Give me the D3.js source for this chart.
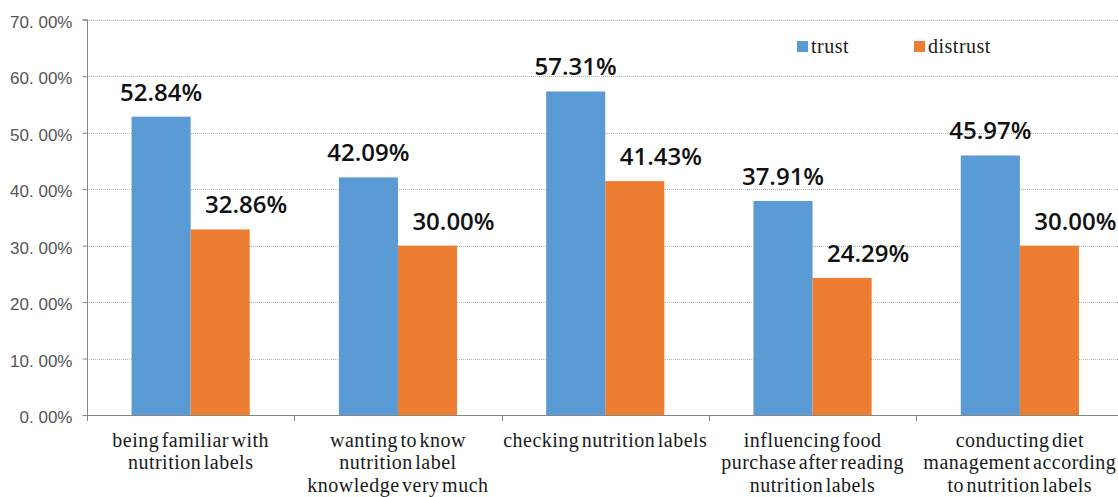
<!DOCTYPE html>
<html>
<head>
<meta charset="utf-8">
<script src="https://cdn.jsdelivr.net/npm/d3@7"></script>
<style>
  html, body { margin: 0; padding: 0; background: #fff; }
  svg { display: block; }
</style>
</head>
<body>
<svg id="chart" width="1118" height="497"></svg>
<script>
const categories = [
  ["being familiar with", "nutrition labels"],
  ["wanting to know", "nutrition label", "knowledge very much"],
  ["checking nutrition labels"],
  ["influencing food", "purchase after reading", "nutrition labels"],
  ["conducting diet", "management according", "to nutrition labels"]
];
const seriesNames = ["trust", "distrust"];
const trust = [52.84, 42.09, 57.31, 37.91, 45.97];
const distrust = [32.86, 30.00, 41.43, 24.29, 30.00];
const yTicks = [0, 10, 20, 30, 40, 50, 60, 70];
const yTickLabels = ["0. 00%", "10. 00%", "20. 00%", "30. 00%", "40. 00%", "50. 00%", "60. 00%", "70. 00%"];
const colors = ["#5B9BD5", "#ED7D31"];

const svg = d3.select("#chart");
const plotLeft = 87, plotRight = 1123.5, plotTop = 19.8, plotBottom = 415;
const keys = d3.range(categories.length);

const x = d3.scaleBand().domain(keys).range([plotLeft, plotRight]).padding(0);
const y = d3.scaleLinear().domain([0, 70]).range([plotBottom, plotTop]);
const barW = x.bandwidth() * 0.285;

// gridlines
svg.append("g")
  .selectAll("line")
  .data(yTicks.filter(d => d > 0))
  .join("line")
  .attr("x1", plotLeft).attr("x2", 1118)
  .attr("y1", d => Math.round(y(d)) + 0.5).attr("y2", d => Math.round(y(d)) + 0.5)
  .attr("stroke", "#b4b4b4").attr("stroke-width", 1).attr("stroke-dasharray", "1,1");

// bars
const series = [trust, distrust];
series.forEach((vals, si) => {
  svg.append("g")
    .selectAll("rect")
    .data(vals)
    .join("rect")
    .attr("x", (d, i) => x(i) + x.bandwidth() / 2 - barW + si * barW)
    .attr("y", d => y(d))
    .attr("width", barW)
    .attr("height", d => y(0) - y(d))
    .attr("fill", colors[si]);
});

// data labels
const labelFmt = d => d.toFixed(2) + "%";
const labelOffset = [0, 26];
series.forEach((vals, si) => {
  svg.append("g")
    .selectAll("text")
    .data(vals)
    .join("text")
    .attr("x", (d, i) => x(i) + x.bandwidth() / 2 - barW / 2 + si * barW + labelOffset[si])
    .attr("y", d => y(d) - 16)
    .attr("text-anchor", "middle")
    .attr("font-family", "'Open Sans', sans-serif")
    .attr("font-weight", 600)
    .attr("font-size", 24)
    .attr("fill", "#111")
    .text(labelFmt);
});

// y axis
const yAxis = d3.axisLeft(y)
  .tickValues(yTicks)
  .tickFormat((d, i) => yTickLabels[i])
  .tickSize(5)
  .tickPadding(10);
const gy = svg.append("g").attr("transform", `translate(${plotLeft + 0.5},0)`).call(yAxis);
gy.select(".domain").attr("stroke", "#868686").attr("d", `M-5,${plotTop}H0V${plotBottom + 6}`);
gy.selectAll(".tick line").attr("stroke", "#868686");
gy.selectAll(".tick text")
  .attr("font-family", "'Liberation Sans', Arial, sans-serif")
  .attr("font-size", 17)
  .attr("fill", "#555")
  .attr("dy", "0.45em");

// x axis
const xAxisLine = svg.append("g");
xAxisLine.append("line")
  .attr("x1", plotLeft).attr("x2", 1118)
  .attr("y1", plotBottom + 0.5).attr("y2", plotBottom + 0.5)
  .attr("stroke", "#868686");
xAxisLine.selectAll("line.tk")
  .data(keys.slice(1))
  .join("line")
  .attr("class", "tk")
  .attr("x1", d => Math.round(x(d)) + 0.5).attr("x2", d => Math.round(x(d)) + 0.5)
  .attr("y1", plotBottom).attr("y2", plotBottom + 6)
  .attr("stroke", "#868686");

// x labels
const xl = svg.append("g")
  .selectAll("text")
  .data(categories)
  .join("text")
  .attr("text-anchor", "middle")
  .attr("font-family", "'Liberation Serif', 'Times New Roman', serif")
  .attr("font-size", 20)
  .attr("letter-spacing", "0.5px")
  .attr("word-spacing", "-3px")
  .attr("fill", "#1a1a1a");
xl.each(function(lines, i) {
  d3.select(this).selectAll("tspan")
    .data(lines)
    .join("tspan")
    .attr("x", x(i) + x.bandwidth() / 2)
    .attr("y", (d, j) => 446.5 + j * 22.5)
    .text(d => d);
});

// legend
const legend = svg.append("g");
const legendX = [797, 914];
seriesNames.forEach((name, i) => {
  legend.append("rect")
    .attr("x", legendX[i]).attr("y", 41)
    .attr("width", 11).attr("height", 11)
    .attr("fill", colors[i]);
  legend.append("text")
    .attr("x", legendX[i] + 14).attr("y", 53)
    .attr("font-family", "'Liberation Serif', 'Times New Roman', serif")
    .attr("font-size", 20)
    .attr("letter-spacing", "0.5px")
    .attr("fill", "#1a1a1a")
    .text(name);
});
</script>
</body>
</html>
